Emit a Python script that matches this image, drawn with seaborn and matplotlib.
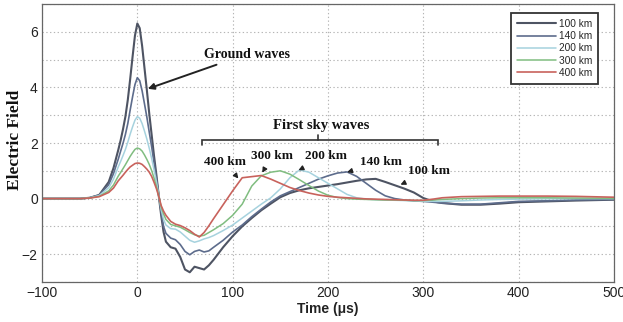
import numpy as np
import pandas as pd
import matplotlib
matplotlib.use("Agg")
import matplotlib.pyplot as plt
import seaborn as sns
from matplotlib.ticker import MultipleLocator

# ---------------- data ----------------
time_us = [-100, -80, -60, -50, -40, -30, -25, -20, -17.5, -15, -12.5, -10, -7.5, -5, -2.5,
           0, 2.5, 5, 7.5, 10, 12.5, 15, 17.5, 20, 22.5, 25, 27.5, 30,
           35, 40, 45, 50, 55, 60, 65, 70, 75, 80,
           90, 100, 110, 120, 130, 140, 150, 160, 170, 180, 190, 200, 210, 220, 230, 240,
           250, 260, 270, 280, 290, 300, 310, 320, 340, 360, 380, 400, 430, 460, 500]

field_100km = [0, 0, 0.0, 0.03, 0.13, 0.6, 1.1, 1.75, 2.1, 2.5, 2.95, 3.55, 4.3, 5.1, 5.86,
               6.3, 6.13, 5.5, 4.7, 3.9, 3.06, 2.3, 1.54, 0.85, 0.1, -0.6, -1.2, -1.55,
               -1.75, -1.8, -2.1, -2.55, -2.65, -2.45, -2.5, -2.55, -2.4, -2.2,
               -1.75, -1.35, -1.0, -0.7, -0.42, -0.18, 0.05, 0.2, 0.3, 0.37, 0.42, 0.47, 0.52, 0.58, 0.64, 0.69,
               0.71, 0.6, 0.48, 0.36, 0.22, 0.02, -0.1, -0.16, -0.22, -0.22, -0.18, -0.13, -0.1, -0.07, -0.04]

field_140km = [0, 0, 0.0, 0.03, 0.13, 0.5, 0.9, 1.42, 1.71, 1.99, 2.31, 2.7, 3.19, 3.66, 4.1,
               4.35, 4.24, 3.88, 3.41, 2.93, 2.39, 1.87, 1.3, 0.74, 0.13, -0.5, -1.0, -1.25,
               -1.42, -1.48, -1.65, -1.9, -2.02, -1.9, -1.85, -1.92, -1.88, -1.75,
               -1.5, -1.2, -0.95, -0.65, -0.38, -0.12, 0.1, 0.25, 0.4, 0.55, 0.7, 0.82, 0.92, 0.96, 0.8, 0.55,
               0.3, 0.1, 0.0, -0.05, -0.08, -0.1, -0.13, -0.16, -0.2, -0.2, -0.15, -0.1, -0.08, -0.05, -0.03]

field_200km = [0, 0, 0.0, 0.03, 0.11, 0.39, 0.7, 1.14, 1.34, 1.55, 1.77, 2.03, 2.32, 2.58, 2.82,
               2.95, 2.89, 2.7, 2.43, 2.14, 1.81, 1.45, 1.04, 0.61, 0.12, -0.4, -0.75, -0.95,
               -1.08, -1.1, -1.2, -1.35, -1.5, -1.57, -1.52, -1.45, -1.4, -1.33,
               -1.15, -0.95, -0.7, -0.45, -0.2, 0.03, 0.35, 0.75, 1.03, 0.95, 0.75, 0.55, 0.35, 0.15, 0.03, -0.02,
               -0.04, -0.05, -0.06, -0.07, -0.08, -0.1, -0.1, -0.1, -0.08, -0.05, -0.03, -0.02, -0.01, 0.0, 0.0]

field_300km = [0, 0, 0.0, 0.02, 0.08, 0.28, 0.49, 0.81, 0.94, 1.08, 1.22, 1.37, 1.52, 1.65, 1.77,
               1.82, 1.79, 1.71, 1.57, 1.41, 1.23, 1.01, 0.74, 0.44, 0.09, -0.3, -0.55, -0.75,
               -0.93, -0.98, -1.03, -1.12, -1.22, -1.3, -1.35, -1.32, -1.22, -1.12,
               -0.9, -0.6, -0.2, 0.45, 0.82, 0.95, 1.0, 0.88, 0.68, 0.47, 0.27, 0.12, 0.04, 0.0, -0.02, -0.03,
               -0.04, -0.05, -0.05, -0.06, -0.07, -0.07, -0.05, -0.03, 0.0, 0.02, 0.03, 0.03, 0.03, 0.02, 0.01]

field_400km = [0, 0, 0.0, 0.02, 0.07, 0.22, 0.38, 0.64, 0.74, 0.84, 0.95, 1.05, 1.14, 1.2, 1.26,
               1.28, 1.27, 1.23, 1.15, 1.06, 0.95, 0.8, 0.59, 0.36, 0.08, -0.25, -0.45, -0.6,
               -0.82, -0.92, -0.97, -1.05, -1.15, -1.28, -1.38, -1.22, -0.98, -0.72,
               -0.22, 0.28, 0.75, 0.79, 0.83, 0.7, 0.55, 0.4, 0.29, 0.2, 0.13, 0.08, 0.05, 0.03, 0.01, -0.01,
               -0.02, -0.03, -0.04, -0.05, -0.06, -0.06, -0.02, 0.03, 0.07, 0.08, 0.09, 0.09, 0.09, 0.08, 0.05]

distances = ["100 km", "140 km", "200 km", "300 km", "400 km"]
series = [field_100km, field_140km, field_200km, field_300km, field_400km]
colors = ["#4e5463", "#5d6c8c", "#a6d2de", "#80bd80", "#c8625c"]
widths = [1.5, 1.2, 1.1, 1.1, 1.2]

x_ticks = [-100, 0, 100, 200, 300, 400, 500]
y_ticks = [-2, 0, 2, 4, 6]

frames = [pd.DataFrame({"Time": time_us, "Field": vals, "Distance": d})
          for d, vals in zip(distances, series)]
df = pd.concat(frames, ignore_index=True)

# ---------------- figure ----------------
sns.set_theme(style="white")
plt.rcParams["font.family"] = ["Liberation Sans", "DejaVu Sans"]

fig = plt.figure(figsize=(6.23, 3.22), dpi=100)
ax = fig.add_axes([0.0674, 0.1242, 0.9182, 0.8634])

sns.lineplot(data=df, x="Time", y="Field", hue="Distance", hue_order=distances,
             palette=dict(zip(distances, colors)), ax=ax, sort=False,
             estimator=None, legend=True)
for line, lw in zip(ax.get_lines(), widths):
    line.set_linewidth(lw)
    line.set_solid_joinstyle("round")

ax.set_xlim(-100, 500)
ax.set_ylim(-3, 7)
ax.set_xticks(x_ticks)
ax.set_yticks(y_ticks)
ax.yaxis.set_minor_locator(MultipleLocator(1))
ax.set_xticklabels(["\u2212100" if v < 0 else str(v) for v in x_ticks])
ax.set_yticklabels(["\u22122" if v < 0 else str(v) for v in y_ticks])
ax.tick_params(axis="both", which="major", labelsize=10, colors="#222222",
               direction="in", length=3, pad=3)
ax.tick_params(axis="both", which="minor", direction="in", length=0)
ax.grid(True, which="both", linestyle=(0, (1.2, 2.2)), color="#b5b5b5", linewidth=0.8)
for sp in ax.spines.values():
    sp.set_color("#666666")
    sp.set_linewidth(0.9)

ax.set_xlabel("Time (\u03bcs)", fontsize=10, fontweight="bold", color="#222222", labelpad=1)
ax.set_ylabel("Electric Field", fontsize=12.5, fontweight="bold", family="Liberation Serif",
              color="#111111")
ax.yaxis.set_label_coords(-0.034, 0.51)

# legend
handles, labels = ax.get_legend_handles_labels()
for h, lw in zip(handles, widths):
    h.set_linewidth(lw)
leg = ax.legend(handles, labels, loc="upper right", bbox_to_anchor=(0.972, 0.968),
                borderaxespad=0, fontsize=7.3, handlelength=3.8, handletextpad=0.3,
                labelspacing=0.22, borderpad=0.6, fancybox=False, framealpha=1)
leg.get_frame().set_edgecolor("#333333")
leg.get_frame().set_linewidth(1.3)

# annotations
serif_bold = dict(family="Liberation Serif", fontweight="bold", color="#111111")
ax.annotate("Ground waves", xy=(11, 3.95), xytext=(70, 5.2), fontsize=10, ha="left",
            va="center", **serif_bold,
            arrowprops=dict(arrowstyle="-|>", color="#222222", lw=1.4, mutation_scale=9,
                            shrinkA=2, shrinkB=0))
ax.text(193, 2.62, "First sky waves", fontsize=10.5, ha="center", va="center", **serif_bold)
# bracket
ax.plot([68, 68, 315, 315], [1.93, 2.11, 2.11, 1.93], color="#333333", lw=1.2,
        solid_joinstyle="miter")
ax.plot([190, 190], [2.11, 2.3], color="#333333", lw=1.2)

labels_sky = [("400 km", (92, 1.32), (106, 0.72)),
              ("300 km", (141, 1.52), (131, 0.93)),
              ("200 km", (198, 1.52), (169, 1.02)),
              ("140 km", (256, 1.32), (220, 0.95)),
              ("100 km", (306, 0.98), (276, 0.5))]
for txt, pos, tip in labels_sky:
    ax.annotate(txt, xy=tip, xytext=pos, fontsize=9.5, ha="center", va="center",
                **serif_bold,
                arrowprops=dict(arrowstyle="-|>", color="#222222", lw=1.0,
                                mutation_scale=7, shrinkA=4, shrinkB=0))

fig.savefig("out.png", dpi=100, facecolor="white")
